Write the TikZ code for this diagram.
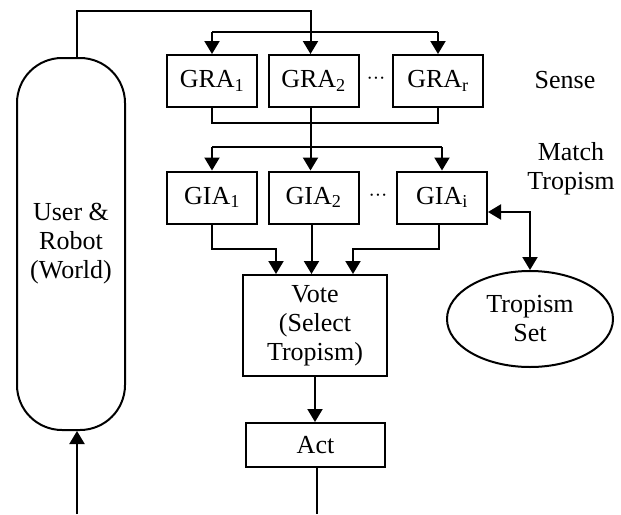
\documentclass[tikz,border=0pt]{standalone}
\usepackage{fontspec}
\setmainfont{Liberation Serif}
\usetikzlibrary{arrows.meta,shapes.geometric}

\tikzset{
  box/.style={draw, rectangle, inner sep=0pt, minimum width=90pt, minimum height=52pt},
  wire/.style={line width=2pt},
  arr/.style={wire, -{Triangle[width=15pt,length=13pt]}},
  darr/.style={wire, {Triangle[width=15pt,length=13pt]}-{Triangle[width=15pt,length=13pt]}}
}

\begin{document}
\begin{tikzpicture}[x=1pt, y=-1pt, line width=2pt,
  every node/.style={font=\fontsize{26}{29}\selectfont}]
% parameters (?)
\def\senserow{81}
\def\matchrow{197.5}
\useasboundingbox (0,0) rectangle (621,514);
% the world
    \node[draw, rectangle, rounded corners=45pt, minimum width=108pt, minimum height=372pt, align=center] (world) at (71,244) {User \&\\Robot\\(World)};
% sense and match rows
    \foreach \n/\x in {1/212, 2/313.5, r/438} {
        \node[box] (GRA\n) at (\x,\senserow) {GRA\textsubscript{\n}};
    }
    \foreach \n/\x in {1/212, 2/313.5, i/442} {
        \node[box] (GIA\n) at (\x,\matchrow) {GIA\textsubscript{\n}};
    }
    \node[font=\fontsize{19}{22}\selectfont] (dotsA) at (376,\senserow) {···};
    \node[font=\fontsize{19}{22}\selectfont] (dotsB) at (378,\matchrow) {···};
    \node (sense) at (565,80) {Sense};
    \node[align=center] (match) at (571,169) {Match\\Tropism};
% vote, act and tropism set
    \node[draw, rectangle, minimum width=144pt, minimum height=101pt, align=center] (vote) at (315,325.5) {Vote\\(Select\\Tropism)};
    \node[draw, rectangle, minimum width=139pt, minimum height=44pt] (act) at (315.5,445) {Act};
    \node[draw, ellipse, minimum width=166pt, minimum height=96pt, inner sep=0pt, align=center] (tset) at (530,319) {Tropism\\Set};
% bus coordinates
    \coordinate (feed) at (0,11);
    \coordinate (senseBus) at (0,32);
    \coordinate (gather) at (0,123);
    \coordinate (matchBus) at (0,147);
    \coordinate (voteBus) at (0,249);
    \coordinate (outR) at (317,514);
    \coordinate (inL) at (77,514);
% Draw the connectors
    \draw[arr] ([xshift=6pt]world.north) |- ([xshift=-3pt]GRA2.north |- feed) -- ([xshift=-3pt]GRA2.north);
    \draw[wire] (GRA1.north |- senseBus) -- (GRAr.north |- senseBus);
    \draw[arr] (GRA1.north |- senseBus) -- (GRA1.north);
    \draw[arr] (GRAr.north |- senseBus) -- (GRAr.north);
    \draw[wire] (GRA1.south) |- (gather -| GRAr.south) -- (GRAr.south);
    \draw[arr] ([xshift=-3pt]GRA2.south) -- ([xshift=-3pt]GIA2.north);
    \draw[wire] (GIA1.north |- matchBus) -- (GIAi.north |- matchBus);
    \draw[arr] (GIA1.north |- matchBus) -- (GIA1.north);
    \draw[arr] (GIAi.north |- matchBus) -- (GIAi.north);
    \draw[arr] (GIA1.south) |- ([xshift=-39pt]vote.north |- voteBus) -- ([xshift=-39pt]vote.north);
    \draw[arr] ([xshift=-2pt]GIA2.south) -- ([xshift=-2pt]GIA2.south |- vote.north);
    \draw[arr] ([xshift=-3pt]GIAi.south) |- ([xshift=38pt]vote.north |- voteBus) -- ([xshift=38pt]vote.north);
    \draw[darr] ([yshift=-14.5pt]GIAi.east) -| (tset.north);
    \draw[arr] (vote.south) -- (vote.south |- act.north);
    \draw[wire] (act.south -| outR) -- (outR);
    \draw[arr] (inL) -- (inL |- world.south);
\end{tikzpicture}
\end{document}
